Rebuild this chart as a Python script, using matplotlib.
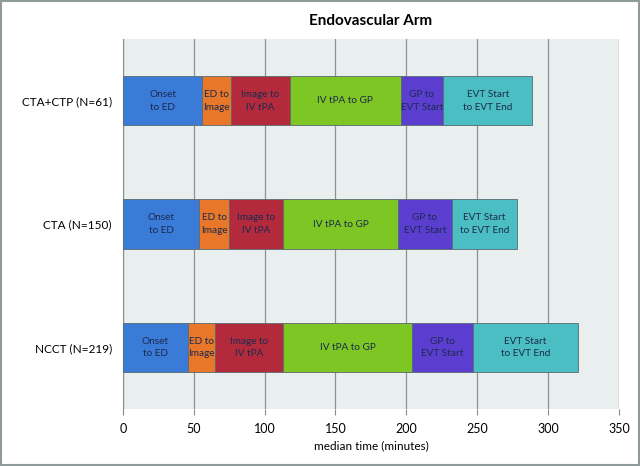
import numpy as np
import matplotlib
matplotlib.use("Agg")
import matplotlib.pyplot as plt

plt.rcParams['font.family'] = ['Lato', 'DejaVu Sans']

# groups, bottom to top
groups = ['NCCT (N=219)', 'CTA (N=150)', 'CTA+CTP (N=61)']
segments = ['Onset\nto ED', 'ED to\nImage', 'Image to\nIV tPA', 'IV tPA to GP',
            'GP to\nEVT Start', 'EVT Start\nto EVT End']
colors = ['#3A7BD8', '#E8772A', '#B32A3C', '#7DC623', '#5B3ED0', '#4BBEC4']

# median minutes per segment, one list per group (same order as groups)
ncct = [46, 19, 48, 91, 43, 74]
cta = [54, 21, 38, 81, 38, 46]
cta_ctp = [56, 20, 42, 78, 30, 63]
durations = np.array([ncct, cta, cta_ctp])

fig = plt.figure(figsize=(6.4, 4.66), dpi=100)
ax = fig.add_axes([0.192, 0.122, 0.775, 0.794])
ax.set_facecolor('#E9EEEE')

y = np.arange(len(groups))
left = np.zeros(len(groups))
for j in range(len(segments)):
    w = durations[:, j]
    ax.barh(y, w, left=left, height=0.4, color=colors[j],
            edgecolor='#5a6a70', linewidth=0.6, zorder=3)
    for i in range(len(groups)):
        ax.text(left[i] + w[i] / 2, y[i], segments[j], ha='center', va='center',
                fontsize=7.2, color='#1c2a4e', zorder=4, linespacing=1.55)
    left += w

ax.set_xlim(0, 350)
ax.set_ylim(-0.5, 2.5)
ax.set_xticks(np.arange(0, 351, 50))
ax.set_yticks(y)
ax.set_yticklabels(groups, fontsize=8.5)
ax.tick_params(axis='x', labelsize=9, length=4, color='#888888', pad=6)
ax.tick_params(axis='y', length=0, pad=8)
ax.grid(axis='x', color='#909090', linewidth=0.9, zorder=0)
ax.set_axisbelow(True)
for s in ['top', 'right', 'bottom']:
    ax.spines[s].set_visible(False)
ax.spines['left'].set_color('#8c8c8c')
ax.set_xlabel('median time (minutes)', fontsize=8.5, labelpad=4)
ax.set_title('Endovascular Arm', fontsize=11, fontweight='bold', pad=10)

fig.patches.append(plt.Rectangle((0.002, 0.002), 0.996, 0.996, transform=fig.transFigure,
                                 fill=False, edgecolor='#8f9a9a', linewidth=1.5))

fig.savefig('out.png', dpi=100)
